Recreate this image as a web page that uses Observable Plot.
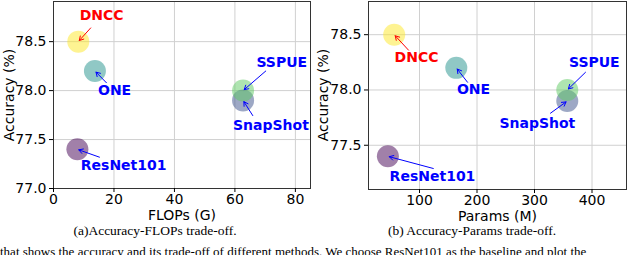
<!DOCTYPE html>
<html>
<head>
<meta charset="utf-8">
<script src="https://cdn.jsdelivr.net/npm/d3@7"></script>
<script src="https://cdn.jsdelivr.net/npm/@observablehq/plot@0.6"></script>
<style>
  html, body { margin: 0; padding: 0; background: #fff; }
  body { width: 640px; height: 255px; overflow: hidden; position: relative; }
  .panel { position: absolute; top: 0; }
  .cap { position: absolute; top: 223px; font-family: "Liberation Serif", "Times New Roman", serif; font-size: 13.5px; text-align: center; color: #000; white-space: nowrap; }
  .body { position: absolute; top: 244px; left: 0; width: 640px; font-family: "Liberation Serif", serif; font-size: 13px; white-space: nowrap; color: #000; }
  .ylab { position: absolute; width: 120px; height: 16px; line-height: 16px; text-align: center; font-family: "DejaVu Sans", sans-serif; font-size: 14px; color: #000; transform: rotate(-90deg); white-space: nowrap; }
</style>
</head>
<body>
<div id="a" class="panel" style="left:0px"></div>
<div id="b" class="panel" style="left:320px"></div>
<div class="ylab" style="left:-51.5px; top:86.5px">Accuracy (%)</div>
<div class="ylab" style="left:262.5px; top:87px">Accuracy (%)</div>
<div class="cap" style="left:0px;width:310px">(a)Accuracy-FLOPs trade-off.</div>
<div class="cap" style="left:320px;width:304px">(b) Accuracy-Params trade-off.</div>
<div class="body">that shows the accuracy and its trade-off of different methods. We choose ResNet101 as the baseline and plot the</div>
<script>
// ---- data ----
const methods   = ["ResNet101", "SnapShot", "ONE", "SSPUE", "DNCC"];
const accuracy  = [77.4, 77.9, 78.2, 78.0, 78.5];
const flops     = [7.9, 62.7, 13.7, 62.7, 8.2];
const params    = [45, 357, 164, 357, 56];
const dotColors = ["#440154", "#3b528b", "#21918c", "#5ec962", "#fde725"];
const textColors = ["#0000ff", "#0000ff", "#0000ff", "#0000ff", "#ff0000"];
// annotation text positions (data units)
const flopsLabelX  = [23.2, 71.9, 20.2, 75.5, 15.9];
const flopsLabelY  = [77.23, 77.64, 78.0, 78.29, 78.77];
const flopsTailX   = [15.2, 65.9, 17.5, 70.2, 12.3];
const flopsTailY   = [77.32, 77.745, 78.08, 78.20, 78.64];
const paramsLabelX = [122.6, 305, 194, 404, 94.8];
const paramsLabelY = [77.22, 77.70, 78.0, 78.25, 78.29];
const paramsTailX  = [124, 327.8, 183.5, 388.7, 80.9];
const paramsTailY  = [77.29, 77.79, 78.07, 78.16, 78.36];
// axes
const flopsTicks  = [0, 20, 40, 60, 80];
const paramsTicks = [100, 200, 300, 400];
const accTicksA   = [77.0, 77.5, 78.0, 78.5];
const accTicksB   = [77.5, 78.0, 78.5];

function rowsFor(xs, lx, ly, tx, ty) {
  return methods.map((m, i) => ({
    name: m, acc: accuracy[i], x: xs[i], color: dotColors[i], tcolor: textColors[i],
    lx: lx[i], ly: ly[i], tx: tx[i], ty: ty[i]
  }));
}

function panel(rows, o) {
  return Plot.plot({
    width: 320, height: 222,
    marginLeft: o.ml, marginRight: o.mr, marginTop: 1, marginBottom: o.mb,
    style: { fontFamily: "DejaVu Sans", fontSize: "14px", color: "#000", background: "transparent", overflow: "visible" },
    x: { domain: o.xd, ticks: o.xt, tickSize: 4, tickPadding: 2, label: null },
    y: { domain: o.yd, ticks: o.yt, tickSize: 4, tickPadding: 3, tickFormat: d3.format(".1f"), label: null },
    marks: [
      Plot.gridX(o.xt, { stroke: "#d0d0d0", strokeOpacity: 1 }),
      Plot.gridY(o.yt, { stroke: "#d0d0d0", strokeOpacity: 1 }),
      Plot.frame({ stroke: "#333" }),
      Plot.axisX({ ticks: o.xt, tickSize: 4, tickPadding: 2, fontSize: 14, label: null }),
      Plot.axisY({ ticks: o.yt, tickSize: 4, tickPadding: 3, tickFormat: d3.format(".1f"), fontSize: 14, label: null }),
      Plot.dot(rows, { x: "x", y: "acc", r: 11, fill: "color", fillOpacity: 0.5, stroke: null }),
      Plot.arrow(rows, { x1: "tx", y1: "ty", x2: "x", y2: "acc", stroke: "tcolor", strokeWidth: 1, headLength: 7, insetEnd: 1.5 }),
      Plot.text(rows, { x: "lx", y: "ly", text: "name", fill: "tcolor", fontWeight: "bold", fontSize: 14, fontFamily: "DejaVu Sans" }),
      Plot.text([o.xlabel], { frameAnchor: "bottom", text: d => d, dy: o.xdy, lineAnchor: "bottom", fontSize: 14 })
    ]
  });
}

const rowsA = rowsFor(flops, flopsLabelX, flopsLabelY, flopsTailX, flopsTailY);
const rowsB = rowsFor(params, paramsLabelX, paramsLabelY, paramsTailX, paramsTailY);

document.getElementById("a").append(panel(rowsA, {
  ml: 53, mr: 10, mb: 34, xd: [0, 85], yd: [77.0, 78.91], xt: flopsTicks, yt: accTicksA,
  xlabel: "FLOPs (G)", xdy: 31
}));
document.getElementById("b").append(panel(rowsB, {
  ml: 48, mr: 14, mb: 33, xd: [11.3, 460], yd: [77.1, 78.8], xt: paramsTicks, yt: accTicksB,
  xlabel: "Params (M)", xdy: 31
}));
</script>
</body>
</html>
